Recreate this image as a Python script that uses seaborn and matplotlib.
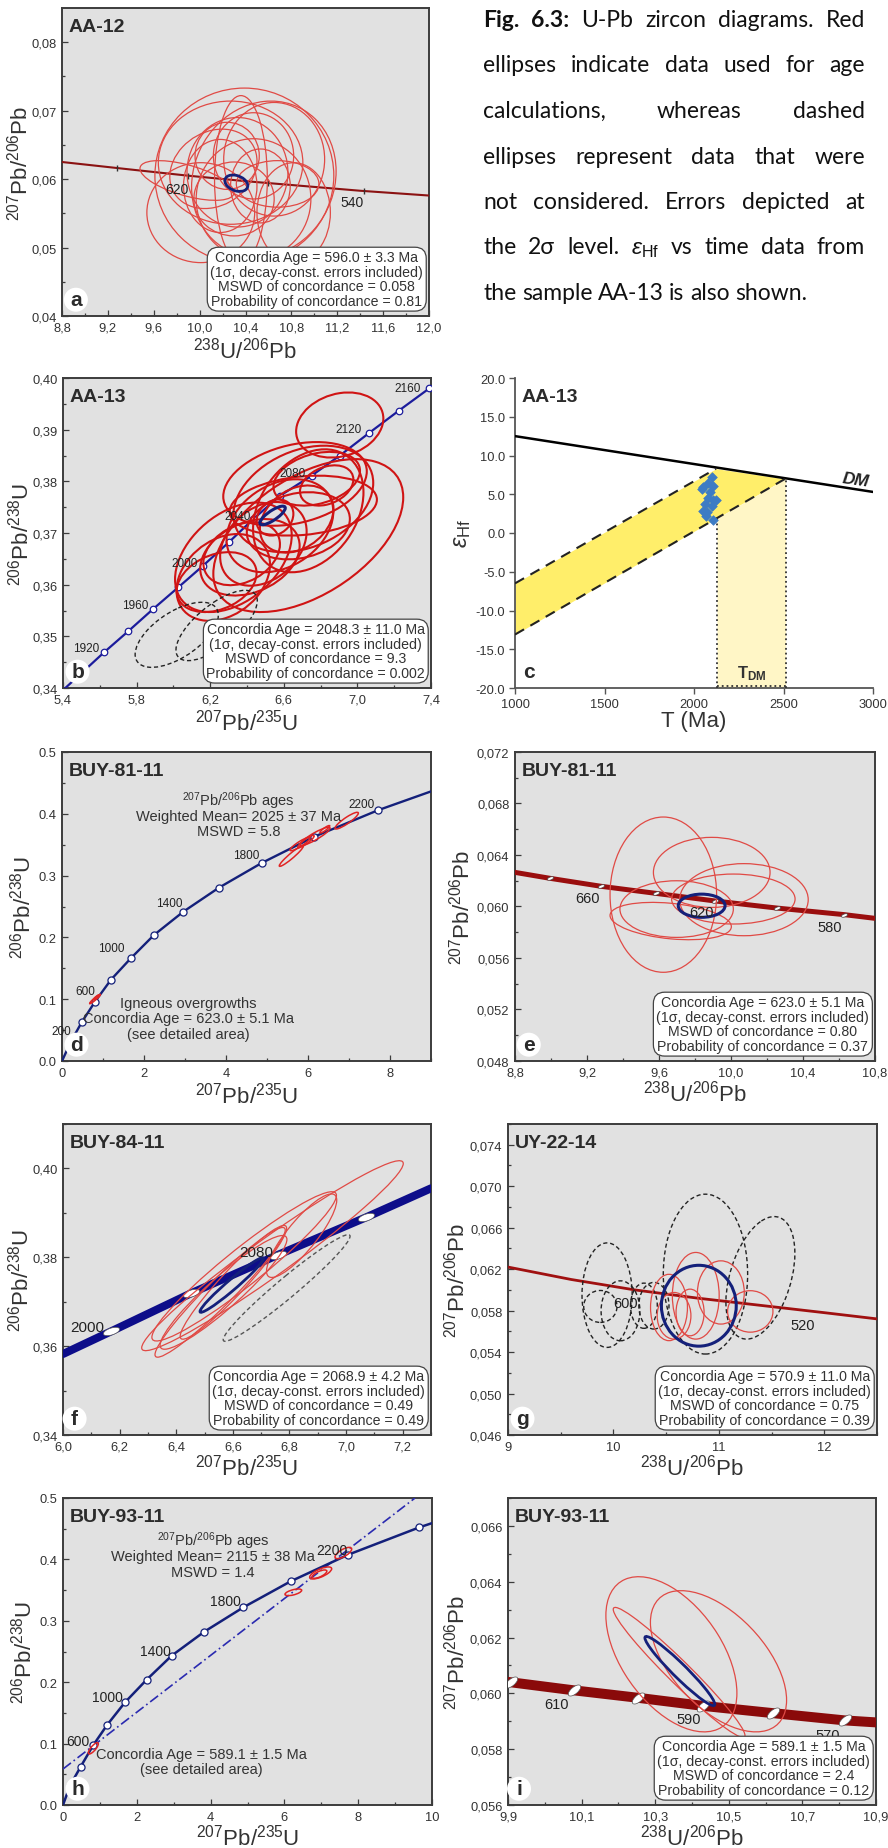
import numpy as np
import pandas as pd
import matplotlib
matplotlib.use("Agg")
import matplotlib.pyplot as plt
import seaborn as sns
from matplotlib.patches import Ellipse
from matplotlib.ticker import FuncFormatter
from matplotlib.markers import MarkerStyle
from matplotlib.transforms import Affine2D

# ======================= DATA =======================
# ---- panel a (AA-12, Tera-Wasserburg)
a_conc_x = [8.8, 9.4, 9.9, 10.4, 10.9, 11.4, 12.0]
a_conc_y = [0.0625, 0.0614, 0.0605, 0.0597, 0.0590, 0.0583, 0.0576]
a_mark_x = [9.28, 9.90, 10.60, 11.43]
a_mark_y = [0.0616, 0.0605, 0.0594, 0.0583]
a_lab = ["620", "540"]
a_lab_x = [9.80, 11.33]
a_lab_y = [0.0586, 0.0566]
a_ell_x = [10.39, 9.89, 10.56, 10.27, 10.01, 10.68, 10.36, 10.33, 10.47, 10.18, 10.65, 10.30, 10.47, 10.24, 10.53, 10.12, 10.82]
a_ell_y = [0.0605, 0.0598, 0.0600, 0.0624, 0.0551, 0.0593, 0.0600, 0.0610, 0.0571, 0.0590, 0.0629, 0.0571, 0.0634, 0.0634, 0.0590, 0.0615, 0.0551]
a_ell_ex = [0.78, 0.41, 0.63, 0.63, 0.47, 0.36, 0.23, 0.44, 0.50, 0.32, 0.44, 0.35, 0.35, 0.28, 0.26, 0.38, 0.32]
a_ell_ey = [0.0128, 0.0029, 0.0114, 0.0090, 0.0073, 0.0034, 0.0122, 0.0080, 0.0088, 0.0068, 0.0083, 0.0054, 0.0063, 0.0049, 0.0054, 0.0058, 0.0073]
a_ell_r = [0, -0.6, 0.1, 0, 0, 0, 0, 0, 0, 0, 0, 0, 0, 0, 0, 0.2, 0]
a_mean = [10.32, 0.0594, 0.10, 0.0012, -0.3]
a_info = ["Concordia Age = 596.0 ± 3.3 Ma", "(1σ, decay-const. errors included)",
          "MSWD of concordance = 0.058", "Probability of concordance = 0.81"]
a_xticks = [8.8, 9.2, 9.6, 10.0, 10.4, 10.8, 11.2, 11.6, 12.0]
a_yticks = [0.04, 0.05, 0.06, 0.07, 0.08]

# ---- panel b (AA-13, Wetherill)
b_line_x = [5.37, 5.623, 5.755, 5.887, 6.027, 6.162, 6.304, 6.434, 6.579, 6.751, 6.905, 7.065, 7.226, 7.391]
b_line_y = [0.3386, 0.3469, 0.3510, 0.3552, 0.3595, 0.3637, 0.3683, 0.3727, 0.3772, 0.3811, 0.3850, 0.3894, 0.3937, 0.3980]
b_lab = ["1920", "1960", "2000", "2040", "2080", "2120", "2160"]
b_lab_x = [5.525, 5.791, 6.059, 6.347, 6.648, 6.950, 7.271]
b_lab_y = [0.3477, 0.3561, 0.3642, 0.3732, 0.3816, 0.3901, 0.3980]
b_ell_x = [6.904, 6.733, 6.326, 6.271, 6.661, 6.706, 6.733, 6.579, 6.679, 6.416, 6.670, 6.552, 6.833, 6.779, 6.235, 6.371, 6.706, 6.489]
b_ell_y = [0.3909, 0.3695, 0.3653, 0.3614, 0.3795, 0.3766, 0.3743, 0.3714, 0.3714, 0.3653, 0.3727, 0.3730, 0.3792, 0.3805, 0.3605, 0.3660, 0.3753, 0.3679]
b_ell_ex = [0.237, 0.516, 0.317, 0.254, 0.390, 0.380, 0.300, 0.290, 0.280, 0.270, 0.200, 0.100, 0.145, 0.235, 0.217, 0.208, 0.400, 0.235]
b_ell_ey = [0.0063, 0.0148, 0.0106, 0.0084, 0.0081, 0.0103, 0.0119, 0.0090, 0.0065, 0.0074, 0.0065, 0.0035, 0.0039, 0.0052, 0.0058, 0.0061, 0.0058, 0.0081]
b_ell_r = [0.2, 0.5, 0.4, 0.3, 0.3, 0.3, 0.3, 0.3, 0.2, 0.3, 0.3, 0.2, 0.3, 0.3, 0.3, 0.3, 0.2, 0.3]
b_rej_x = [6.018, 6.235]
b_rej_y = [0.3503, 0.3521]
b_rej_ex = [0.226, 0.221]
b_rej_ey = [0.0063, 0.0068]
b_rej_r = [0.6, 0.7]
b_mean = [6.539, 0.3734, 0.069, 0.0018, 0.8]
b_info = ["Concordia Age = 2048.3 ± 11.0 Ma", "(1σ, decay-const. errors included)",
          "MSWD of concordance = 9.3", "Probability of concordance = 0.002"]
b_xticks = [5.4, 5.8, 6.2, 6.6, 7.0, 7.4]
b_yticks = [0.34, 0.35, 0.36, 0.37, 0.38, 0.39, 0.40]

# ---- panel c (AA-13, eHf vs T)
c_dm_T = [1000, 3000]
c_dm_eps = [12.5, 5.3]
c_up_T = [1000, 2123]
c_up_eps = [-6.5, 8.3]
c_lo_T = [1000, 2510]
c_lo_eps = [-13.1, 7.0]
c_band_T = [1000, 2123, 2510]
c_band_lo = [-13.1, 1.85, 7.0]
c_band_hi = [-6.5, 8.3, 7.0]
c_tdm_T = [2128, 2512]
c_tdm_top = [1.9, 7.0]
c_T = [2099, 2080, 2052, 2108, 2043, 2089, 2080, 2108, 2061, 2049, 2074, 2099, 2123, 2108, 2067]
c_eps = [7.2, 6.5, 5.9, 6.1, 5.7, 5.25, 4.5, 4.2, 3.7, 2.9, 2.7, 3.5, 4.3, 1.7, 2.2]
c_xticks = [1000, 1500, 2000, 2500, 3000]
c_yticks = [-20, -15, -10, -5, 0, 5, 10, 15, 20]

# ---- panel d (BUY-81-11, Wetherill full)
d_line_x = [0, 0.2184, 0.48, 0.805, 1.195, 1.675, 2.244, 2.959, 3.829, 4.87, 6.154, 7.70, 9.63]
d_line_y = [0, 0.0315, 0.0626, 0.096, 0.1316, 0.166, 0.2039, 0.2416, 0.2805, 0.3204, 0.363, 0.4056, 0.4511]
d_lab = ["200", "600", "1000", "1400", "1800", "2200"]
d_lab_x = [-0.02, 0.561, 1.211, 2.61, 4.504, 7.31]
d_lab_y = [0.049, 0.1138, 0.1828, 0.2557, 0.3333, 0.4159]
d_ell_x = [5.593, 5.805, 6.171, 6.943, 6.41, 5.95, 0.805, 0.84]
d_ell_y = [0.3317, 0.3511, 0.3635, 0.3889, 0.375, 0.355, 0.1003, 0.103]
d_ell_ex = [0.293, 0.244, 0.366, 0.285, 0.12, 0.2, 0.13, 0.07]
d_ell_ey = [0.0167, 0.0108, 0.0148, 0.0135, 0.006, 0.01, 0.0075, 0.004]
d_ell_r = [0.95, 0.9, 0.9, 0.9, 0.9, 0.9, 0.95, 0.9]
d_note1 = ["$^{207}$Pb/$^{206}$Pb ages", "Weighted Mean= 2025 ± 37 Ma", "MSWD = 5.8"]
d_note1_y = [0.4223, 0.397, 0.3727]
d_note2 = ["Igneous overgrowths", "Concordia Age = 623.0 ± 5.1 Ma", "(see detailed area)"]
d_note2_y = [0.0939, 0.069, 0.0437]

# ---- panel e (BUY-81-11, TW)
e_line_x = [8.8, 8.994, 9.278, 9.583, 9.911, 10.254, 10.628, 10.8]
e_line_y = [0.06265, 0.06219, 0.06157, 0.06102, 0.06043, 0.05988, 0.05937, 0.05908]
e_lab = ["660", "620", "580"]
e_lab_x = [9.204, 9.837, 10.55]
e_lab_y = [0.06063, 0.0596, 0.05838]
e_ell_x = [9.624, 9.893, 10.072, 9.698, 9.665, 10.013]
e_ell_y = [0.06092, 0.06265, 0.06053, 0.0598, 0.05887, 0.06058]
e_ell_ex = [0.296, 0.324, 0.357, 0.315, 0.337, 0.343]
e_ell_ey = [0.00603, 0.00272, 0.0028, 0.0022, 0.00145, 0.00194]
e_ell_r = [0, 0, 0, 0, -0.3, 0]
e_mean = [9.837, 0.06006, 0.13, 0.0009, 0]
e_info = ["Concordia Age = 623.0 ± 5.1 Ma", "(1σ, decay-const. errors included)",
          "MSWD of concordance = 0.80", "Probability of concordance = 0.37"]
e_xticks = [8.8, 9.2, 9.6, 10.0, 10.4, 10.8]
e_yticks = [0.048, 0.052, 0.056, 0.060, 0.064, 0.068, 0.072]

# ---- panel f (BUY-84-11, Wetherill zoom)
f_line_x = [6.0, 6.170, 6.452, 6.761, 7.071, 7.3]
f_line_y = [0.35823, 0.36333, 0.37189, 0.38059, 0.3890, 0.39552]
f_lab = ["2000", "2080"]
f_lab_x = [6.086, 6.682]
f_lab_y = [0.3644, 0.3813]
f_ell_x = [6.740, 6.640, 6.555, 6.567, 6.843, 6.602]
f_ell_y = [0.38036, 0.37796, 0.37211, 0.3721, 0.38486, 0.37436]
f_ell_ex = [0.462, 0.326, 0.23, 0.224, 0.124, 0.188]
f_ell_ey = [0.02138, 0.0168, 0.0146, 0.0128, 0.0094, 0.0128]
f_ell_r = [0.97, 0.95, 0.96, 0.93, 0.85, 0.95]
f_rej = [6.790, 0.37309, 0.224, 0.0120, 0.97]
f_mean = [6.596, 0.37376, 0.112, 0.00615, 0.97]
f_info = ["Concordia Age = 2068.9 ± 4.2 Ma", "(1σ, decay-const. errors included)",
          "MSWD of concordance = 0.49", "Probability of concordance = 0.49"]
f_xticks = [6.0, 6.2, 6.4, 6.6, 6.8, 7.0, 7.2]
f_yticks = [0.34, 0.36, 0.38, 0.40]

# ---- panel g (UY-22-14, TW)
g_line_x = [9.0, 9.6, 10.2, 10.8, 11.4, 12.0, 12.5]
g_line_y = [0.0622, 0.0610, 0.0600, 0.0592, 0.0585, 0.0578, 0.0572]
g_lab = ["600", "520"]
g_lab_x = [10.114, 11.797]
g_lab_y = [0.05872, 0.0566]
g_ell_x = [10.527, 10.781, 11.019, 11.298, 10.575, 10.727]
g_ell_y = [0.0583, 0.05943, 0.05975, 0.05792, 0.0575, 0.05782]
g_ell_ex = [0.175, 0.222, 0.222, 0.215, 0.16, 0.133]
g_ell_ey = [0.0032, 0.00418, 0.00305, 0.0020, 0.00225, 0.00225]
g_ell_r = [0, 0, 0, 0, 0, 0]
g_rej_x = [9.94, 9.876, 10.067, 10.289, 10.384, 10.873, 11.394]
g_rej_y = [0.05949, 0.0584, 0.05798, 0.05847, 0.05847, 0.06152, 0.06116]
g_rej_ex = [0.238, 0.158, 0.184, 0.127, 0.143, 0.40, 0.327]
g_rej_ey = [0.00504, 0.00154, 0.00289, 0.00218, 0.00225, 0.00771, 0.00591]
g_rej_r = [0, 0, 0, 0, 0, 0, 0.4]
g_mean = [10.81, 0.05847, 0.355, 0.0039, 0]
g_info = ["Concordia Age = 570.9 ± 11.0 Ma", "(1σ, decay-const. errors included)",
          "MSWD of concordance = 0.75", "Probability of concordance = 0.39"]
g_xticks = [9, 10, 11, 12]
g_yticks = [0.046, 0.050, 0.054, 0.058, 0.062, 0.066, 0.070, 0.074]

# ---- panel h (BUY-93-11, Wetherill full)
h_line_x = [0, 0.19, 0.479, 0.822, 1.201, 1.68, 2.267, 2.945, 3.83, 4.887, 6.17, 7.73, 9.657, 10.73]
h_line_y = [0, 0.0315, 0.0624, 0.0977, 0.1308, 0.1672, 0.2041, 0.2432, 0.2823, 0.3219, 0.3643, 0.4077, 0.4522, 0.4737]
h_disc_x = [0.0, 9.54]
h_disc_y = [0.0586, 0.5]
h_lab = ["600", "1000", "1400", "1800", "2200"]
h_lab_x = [0.416, 1.20, 2.51, 4.41, 7.29]
h_lab_y = [0.1048, 0.1754, 0.2514, 0.3322, 0.4159]
h_ell_x = [6.242, 6.983, 6.95, 7.597, 0.822]
h_ell_y = [0.3464, 0.3779, 0.376, 0.4104, 0.0923]
h_ell_ex = [0.226, 0.298, 0.2, 0.226, 0.135]
h_ell_ey = [0.0054, 0.0098, 0.0068, 0.0092, 0.0092]
h_ell_r = [0.6, 0.7, 0.7, 0.7, 0.8]
h_note1 = ["$^{207}$Pb/$^{206}$Pb ages", "Weighted Mean= 2115 ± 38 Ma", "MSWD = 1.4"]
h_note1_y = [0.4305, 0.405, 0.38]
h_note2 = ["Concordia Age = 589.1 ± 1.5 Ma", "(see detailed area)"]
h_note2_y = [0.0831, 0.0586]

# ---- panel i (BUY-93-11, TW)
i_line_x = [9.9, 10.078, 10.254, 10.431, 10.621, 10.816, 10.9]
i_line_y = [0.06041, 0.06011, 0.05984, 0.05955, 0.05929, 0.05903, 0.05896]
i_mark_x = [9.908, 10.078, 10.254, 10.431, 10.621, 10.816]
i_mark_y = [0.06039, 0.06011, 0.05984, 0.05955, 0.05929, 0.05903]
i_lab = ["610", "590", "570"]
i_lab_x = [10.032, 10.39, 10.768]
i_lab_y = [0.05961, 0.05908, 0.05852]
i_ell_x = [10.344, 10.472, 10.365]
i_ell_y = [0.0614, 0.06115, 0.06075]
i_ell_ex = [0.178, 0.185, 0.179]
i_ell_ey = [0.00278, 0.00253, 0.00233]
i_ell_r = [-0.5, -0.55, -0.97]
i_mean = [10.367, 0.0608, 0.095, 0.00124, -0.96]
i_info = ["Concordia Age = 589.1 ± 1.5 Ma", "(1σ, decay-const. errors included)",
          "MSWD of concordance = 2.4", "Probability of concordance = 0.12"]
i_xticks = [9.9, 10.1, 10.3, 10.5, 10.7, 10.9]
i_yticks = [0.056, 0.058, 0.060, 0.062, 0.064, 0.066]

caption = ["Fig. 6.3: U-Pb zircon diagrams. Red",
           "ellipses indicate data used for age",
           "calculations, whereas dashed",
           "ellipses represent data that were",
           "not considered. Errors depicted at",
           "the 2σ level. εHf vs time data from",
           "the sample AA-13 is also shown."]

# ======================= STYLE =======================
sns.set_theme(style="ticks")
plt.rcParams["font.family"] = ["Liberation Sans", "DejaVu Sans"]
plt.rcParams["mathtext.fontset"] = "custom"
plt.rcParams["mathtext.rm"] = "Liberation Sans"
plt.rcParams["mathtext.it"] = "Liberation Sans:italic"
plt.rcParams["mathtext.bf"] = "Liberation Sans:bold"
plt.rcParams["mathtext.sf"] = "Liberation Sans"

W, H = 888, 1849
fig = plt.figure(figsize=(W / 100, H / 100), dpi=100)
fig.patch.set_facecolor("white")

SP = "#3c3c3c"
RED = "#e04a45"
DRED = "#d01414"
NAVY = "#14207a"
NOTE = 10.5


def ax_at(l, t, r, b):
    return fig.add_axes([l / W, 1 - b / H, (r - l) / W, (b - t) / H])


def comma(fmt):
    return FuncFormatter(lambda v, p: fmt.format(v).replace(".", ","))


def dot(fmt):
    return FuncFormatter(lambda v, p: fmt.format(v))


def minors(ticks, n=2):
    out = []
    for a, b in zip(ticks[:-1], ticks[1:]):
        for k in range(1, n):
            out.append(a + (b - a) * k / n)
    return out


def style_gray(ax, xlim, ylim, xt, yt, xf, yf):
    ax.set_facecolor("#E1E1E1")
    ax.set_xlim(*xlim)
    ax.set_ylim(*ylim)
    ax.set_xticks(xt)
    ax.set_xticks(minors(xt), minor=True)
    ax.set_yticks(yt)
    ax.set_yticks(minors(yt), minor=True)
    ax.xaxis.set_major_formatter(xf)
    ax.yaxis.set_major_formatter(yf)
    for s in ax.spines.values():
        s.set_visible(True)
        s.set_color(SP)
        s.set_linewidth(1.4)
    ax.tick_params(which="both", direction="in", color=SP, width=0.9,
                   labelcolor="#333333", labelsize=9.3, pad=4)
    ax.tick_params(which="major", length=4)
    ax.tick_params(which="minor", length=2.5)
    ax.grid(False)


def axis_labels(ax, xl, yl, xpad=1, ypad=0):
    ax.set_xlabel(xl, fontsize=16, color="#333333", labelpad=xpad)
    ax.set_ylabel(yl, fontsize=16, color="#333333", labelpad=ypad)


def sample_label(ax, s):
    ax.text(0.018, 0.968, s, transform=ax.transAxes, ha="left", va="top",
            fontsize=14, fontweight="bold", color="#2b2b2b", zorder=12)


def panel_letter(ax, s, circle=True):
    kw = dict(boxstyle="circle,pad=0.12", fc="white", ec="none") if circle else None
    ax.text(0.022, 0.022, s, transform=ax.transAxes, ha="left", va="bottom",
            fontsize=15, fontweight="bold", color="#2b2b2b", bbox=kw, zorder=12)


def info_box(ax, lines):
    ax.text(0.984, 0.026, "\n".join(lines), transform=ax.transAxes, ha="right",
            va="bottom", multialignment="center", fontsize=10.2, color="#333333",
            linespacing=1.05, zorder=15,
            bbox=dict(boxstyle="round,pad=0.22,rounding_size=0.8", fc="white",
                      ec="#444444", lw=0.9))


def draw_ellipses(ax, xs, ys, exs, eys, rhos, **kw):
    for x, y, sx, sy, r in zip(xs, ys, exs, eys, rhos):
        c = r * sx * sy
        vals, vecs = np.linalg.eigh(np.array([[sx * sx, c], [c, sy * sy]]))
        ang = np.degrees(np.arctan2(vecs[1, 1], vecs[0, 1]))
        ax.add_patch(Ellipse((x, y), 2 * np.sqrt(max(vals[1], 0)),
                             2 * np.sqrt(max(vals[0], 0)), angle=ang,
                             fill=False, **kw))


def age_labels(ax, labs, xs, ys, size):
    for s, x, y in zip(labs, xs, ys):
        ax.text(x, y, s, ha="center", va="center", fontsize=size, color="#222222",
                zorder=8, clip_on=False)


def conc_line(ax, xs, ys, color, lw):
    sns.lineplot(x=xs, y=ys, ax=ax, sort=False, estimator=None, color=color,
                 lw=lw, legend=False, zorder=3)


# ======================= PANEL a =======================
ax = ax_at(62, 9, 429, 317)
style_gray(ax, (8.8, 12.0), (0.04, 0.085), a_xticks, a_yticks, comma("{:.1f}"), comma("{:.2f}"))
conc_line(ax, a_conc_x, a_conc_y, "#8b1212", 1.5)
sns.scatterplot(x=a_mark_x, y=a_mark_y, ax=ax, marker="|", s=18, color="#333333",
                linewidth=1, zorder=4, legend=False)
draw_ellipses(ax, a_ell_x, a_ell_y, a_ell_ex, a_ell_ey, a_ell_r, ec=RED, lw=0.9, zorder=5)
draw_ellipses(ax, [a_mean[0]], [a_mean[1]], [a_mean[2]], [a_mean[3]], [a_mean[4]], ec=NAVY, lw=2, zorder=6)
age_labels(ax, a_lab, a_lab_x, a_lab_y, 10)
info_box(ax, a_info)
sample_label(ax, "AA-12")
panel_letter(ax, "a")
axis_labels(ax, r"$^{238}$U/$^{206}$Pb", r"$^{207}$Pb/$^{206}$Pb", 2, -1)

# ======================= PANEL b =======================
ax = ax_at(63, 379, 431, 689)
style_gray(ax, (5.4, 7.4), (0.34, 0.40), b_xticks, b_yticks, comma("{:.1f}"), comma("{:.2f}"))
conc_line(ax, b_line_x, b_line_y, "#1c1c9c", 1.6)
sns.scatterplot(x=b_line_x[1:], y=b_line_y[1:], ax=ax, s=22, color="white",
                edgecolor="#1c1c9c", linewidth=0.9, zorder=4, legend=False)
draw_ellipses(ax, b_ell_x, b_ell_y, b_ell_ex, b_ell_ey, b_ell_r, ec=DRED, lw=1.5, zorder=5)
draw_ellipses(ax, b_rej_x, b_rej_y, b_rej_ex, b_rej_ey, b_rej_r, ec="#222222", lw=1.0,
              ls=(0, (3, 2)), zorder=5)
draw_ellipses(ax, [b_mean[0]], [b_mean[1]], [b_mean[2]], [b_mean[3]], [b_mean[4]], ec=NAVY, lw=2.2, zorder=6)
age_labels(ax, b_lab, b_lab_x, b_lab_y, 8.5)
info_box(ax, b_info)
sample_label(ax, "AA-13")
panel_letter(ax, "b")
axis_labels(ax, r"$^{207}$Pb/$^{235}$U", r"$^{206}$Pb/$^{238}$U", 2, -1)

# ======================= PANEL c =======================
ax = ax_at(515, 379, 873, 689)
ax.set_facecolor("white")
ax.set_xlim(1000, 3000)
ax.set_ylim(-20, 20)
ax.fill_between(c_band_T, c_band_lo, c_band_hi, color="#FFEE6A", lw=0, zorder=1)
ax.fill_between(c_tdm_T, [-20, -20], c_tdm_top, color="#FFF6C6", lw=0, zorder=1)
sns.lineplot(x=c_dm_T, y=c_dm_eps, ax=ax, color="black", lw=1.8, legend=False, zorder=3)
sns.lineplot(x=c_up_T, y=c_up_eps, ax=ax, color="#222222", lw=1.5, linestyle=(0, (5, 3.5)), legend=False, zorder=3)
sns.lineplot(x=c_lo_T, y=c_lo_eps, ax=ax, color="#222222", lw=1.5, linestyle=(0, (5, 3.5)), legend=False, zorder=3)
for T, top in zip(c_tdm_T, c_tdm_top):
    ax.plot([T, T], [-20, top], color="#333333", lw=1.3, ls=":", zorder=3)
ax.plot(c_tdm_T, [-19.8, -19.8], color="#333333", lw=1.3, ls=":", zorder=3)
sns.scatterplot(x=c_T, y=c_eps, ax=ax, marker="D", s=24, color="#3d7cc4",
                edgecolor="#3d7cc4", linewidth=0.5, zorder=5, legend=False)
ax.set_xticks(c_xticks)
ax.set_yticks(c_yticks)
ax.xaxis.set_major_formatter(dot("{:.0f}"))
ax.yaxis.set_major_formatter(dot("{:.1f}"))
for side in ["top", "right"]:
    ax.spines[side].set_visible(False)
for side in ["left", "bottom"]:
    ax.spines[side].set_color("#555555")
    ax.spines[side].set_linewidth(1.3)
ax.tick_params(direction="out", length=4, width=1, color="#555555",
               labelcolor="#333333", labelsize=9.3, pad=3)
ax.grid(False)
ax.text(2905, 6.9, "DM", fontsize=12.5, fontweight="bold", fontstyle="italic",
        rotation=-8, ha="center", va="center", color="#222222")
ax.text(2322, -18.0, r"$\mathbf{T}_{\mathbf{DM}}$", fontsize=12, ha="center",
        va="center", color="#333333")
sample_label(ax, "AA-13")
panel_letter(ax, "c", circle=False)
ax.set_xlabel("T (Ma)", fontsize=16, color="#333333", labelpad=0)
ax.set_ylabel(r"$\varepsilon_{\mathrm{Hf}}$", fontsize=17, color="#333333", labelpad=2)

# ======================= PANEL d =======================
ax = ax_at(62, 753, 431, 1062)
style_gray(ax, (0, 9), (0, 0.5), [0, 2, 4, 6, 8], [0, 0.1, 0.2, 0.3, 0.4, 0.5], dot("{:.0f}"), dot("{:.1f}"))
ax.set_xticks([1, 3, 5, 7, 9], minor=True)
conc_line(ax, d_line_x, d_line_y, NAVY, 1.7)
sns.scatterplot(x=d_line_x[1:-1], y=d_line_y[1:-1], ax=ax, s=26, color="white",
                edgecolor=NAVY, linewidth=0.9, zorder=4, legend=False)
draw_ellipses(ax, d_ell_x, d_ell_y, d_ell_ex, d_ell_ey, d_ell_r, ec="#e02424", lw=1.1, zorder=5)
age_labels(ax, d_lab, d_lab_x, d_lab_y, 8.5)
for s, y in zip(d_note1, d_note1_y):
    ax.text(4.30, y, s, ha="center", va="center", fontsize=NOTE, color="#333333", zorder=8)
for s, y in zip(d_note2, d_note2_y):
    ax.text(3.08, y, s, ha="center", va="center", fontsize=NOTE, color="#333333", zorder=8)
sample_label(ax, "BUY-81-11")
panel_letter(ax, "d")
axis_labels(ax, r"$^{207}$Pb/$^{235}$U", r"$^{206}$Pb/$^{238}$U", 2, 2)

# ======================= PANEL e =======================
ax = ax_at(515, 753, 875, 1062)
style_gray(ax, (8.8, 10.8), (0.048, 0.072), e_xticks, e_yticks, comma("{:.1f}"), comma("{:.3f}"))
conc_line(ax, e_line_x, e_line_y, "#9a0e0e", 3.6)
sns.scatterplot(x=e_line_x[1:-1], y=e_line_y[1:-1], ax=ax, s=22, color="white",
                marker=MarkerStyle("o", transform=Affine2D().scale(1, 0.45).rotate_deg(20)),
                edgecolor="#444444", linewidth=0.5, zorder=4, legend=False)
draw_ellipses(ax, e_ell_x, e_ell_y, e_ell_ex, e_ell_ey, e_ell_r, ec=RED, lw=0.9, zorder=5)
draw_ellipses(ax, [e_mean[0]], [e_mean[1]], [e_mean[2]], [e_mean[3]], [e_mean[4]], ec=NAVY, lw=2.2, zorder=6)
age_labels(ax, e_lab, e_lab_x, e_lab_y, 10.5)
info_box(ax, e_info)
sample_label(ax, "BUY-81-11")
panel_letter(ax, "e")
axis_labels(ax, r"$^{238}$U/$^{206}$Pb", r"$^{207}$Pb/$^{206}$Pb", 1, 2)

# ======================= PANEL f =======================
ax = ax_at(63, 1125, 431, 1436)
style_gray(ax, (6.0, 7.3), (0.34, 0.41), f_xticks, f_yticks, comma("{:.1f}"), comma("{:.2f}"))
ax.set_xticks(minors(f_xticks) + [7.3], minor=True)
ax.set_yticks(minors(f_yticks) + [0.41], minor=True)
conc_line(ax, f_line_x, f_line_y, "#0d0d8a", 5.8)
sns.scatterplot(x=f_line_x[1:-1], y=f_line_y[1:-1], ax=ax, s=150, color="white",
                marker=MarkerStyle("o", transform=Affine2D().scale(1, 0.4).rotate_deg(18)),
                edgecolor="#555555", linewidth=0.5, zorder=4, legend=False)
draw_ellipses(ax, f_ell_x, f_ell_y, f_ell_ex, f_ell_ey, f_ell_r, ec=RED, lw=0.9, zorder=5)
draw_ellipses(ax, [f_rej[0]], [f_rej[1]], [f_rej[2]], [f_rej[3]], [f_rej[4]], ec="#555555",
              lw=1.0, ls=(0, (3, 2)), zorder=5)
draw_ellipses(ax, [f_mean[0]], [f_mean[1]], [f_mean[2]], [f_mean[3]], [f_mean[4]], ec=NAVY, lw=2.0, zorder=6)
age_labels(ax, f_lab, f_lab_x, f_lab_y, 11)
info_box(ax, f_info)
sample_label(ax, "BUY-84-11")
panel_letter(ax, "f")
axis_labels(ax, r"$^{207}$Pb/$^{235}$U", r"$^{206}$Pb/$^{238}$U", 1, -1)

# ======================= PANEL g =======================
ax = ax_at(508, 1125, 877, 1436)
style_gray(ax, (9, 12.5), (0.046, 0.076), g_xticks, g_yticks, dot("{:.0f}"), comma("{:.3f}"))
ax.set_xticks([9.5, 10.5, 11.5, 12.5], minor=True)
ax.set_yticks(minors(g_yticks) + [0.076], minor=True)
conc_line(ax, g_line_x, g_line_y, "#a01010", 2.0)
draw_ellipses(ax, g_rej_x, g_rej_y, g_rej_ex, g_rej_ey, g_rej_r, ec="#222222", lw=1.0,
              ls=(0, (3, 2)), zorder=5)
draw_ellipses(ax, g_ell_x, g_ell_y, g_ell_ex, g_ell_ey, g_ell_r, ec=RED, lw=0.9, zorder=5)
draw_ellipses(ax, [g_mean[0]], [g_mean[1]], [g_mean[2]], [g_mean[3]], [g_mean[4]], ec=NAVY, lw=2.2, zorder=6)
age_labels(ax, g_lab, g_lab_x, g_lab_y, 10.5)
info_box(ax, g_info)
sample_label(ax, "UY-22-14")
panel_letter(ax, "g")
axis_labels(ax, r"$^{238}$U/$^{206}$Pb", r"$^{207}$Pb/$^{206}$Pb", 1, 0)

# ======================= PANEL h =======================
ax = ax_at(63, 1499, 432, 1806)
style_gray(ax, (0, 10), (0, 0.5), [0, 2, 4, 6, 8, 10], [0, 0.1, 0.2, 0.3, 0.4, 0.5], dot("{:.0f}"), dot("{:.1f}"))
sns.lineplot(x=h_disc_x, y=h_disc_y, ax=ax, color="#2a2ab0", lw=1.2, linestyle=(0, (6, 2, 1, 2)),
             legend=False, zorder=3)
conc_line(ax, h_line_x, h_line_y, NAVY, 1.8)
sns.scatterplot(x=h_line_x[1:-1], y=h_line_y[1:-1], ax=ax, s=26, color="white",
                edgecolor=NAVY, linewidth=0.9, zorder=4, legend=False)
draw_ellipses(ax, h_ell_x, h_ell_y, h_ell_ex, h_ell_ey, h_ell_r, ec="#e02424", lw=1.1, zorder=5)
age_labels(ax, h_lab, h_lab_x, h_lab_y, 10)
for s, y in zip(h_note1, h_note1_y):
    ax.text(4.07, y, s, ha="center", va="center", fontsize=NOTE, color="#333333", zorder=8)
for s, y in zip(h_note2, h_note2_y):
    ax.text(3.76, y, s, ha="center", va="center", fontsize=NOTE, color="#333333", zorder=8)
sample_label(ax, "BUY-93-11")
panel_letter(ax, "h")
axis_labels(ax, r"$^{207}$Pb/$^{235}$U", r"$^{206}$Pb/$^{238}$U", 1, 2)

# ======================= PANEL i =======================
ax = ax_at(508, 1499, 876, 1806)
style_gray(ax, (9.9, 10.9), (0.056, 0.067), i_xticks, i_yticks, comma("{:.1f}"), comma("{:.3f}"))
ax.set_yticks(minors(i_yticks) + [0.067], minor=True)
conc_line(ax, i_line_x, i_line_y, "#8a0a0a", 7.2)
sns.scatterplot(x=i_mark_x, y=i_mark_y, ax=ax, s=120, color="white",
                marker=MarkerStyle("o", transform=Affine2D().scale(1, 0.45).rotate_deg(40)),
                edgecolor="#555555", linewidth=0.5, zorder=4, legend=False)
draw_ellipses(ax, i_ell_x, i_ell_y, i_ell_ex, i_ell_ey, i_ell_r, ec=RED, lw=0.9, zorder=5)
draw_ellipses(ax, [i_mean[0]], [i_mean[1]], [i_mean[2]], [i_mean[3]], [i_mean[4]], ec=NAVY, lw=2.0, zorder=6)
age_labels(ax, i_lab, i_lab_x, i_lab_y, 10.5)
info_box(ax, i_info)
sample_label(ax, "BUY-93-11")
panel_letter(ax, "i")
axis_labels(ax, r"$^{238}$U/$^{206}$Pb", r"$^{207}$Pb/$^{206}$Pb", 1, 0)

# ======================= CAPTION (justified) =======================
fig.canvas.draw()
renderer = fig.canvas.get_renderer()
CL, CR = 483, 865
base0, dy = 27, 45.5
cap_fam = ["Lato", "DejaVu Sans"]
for i, line in enumerate(caption):
    words = line.split(" ")
    texts = []
    ypix = base0 + dy * i
    for w in words:
        s = r"$\varepsilon_{\mathrm{Hf}}$" if w == "εHf" else w
        bold = (i == 0 and w in ("Fig.", "6.3:"))
        t = fig.text(CL / W, 1 - ypix / H, s, fontsize=16.5, family=cap_fam,
                     fontweight="bold" if bold else "normal", va="baseline",
                     ha="left", color="#111111")
        texts.append(t)
    widths = [t.get_window_extent(renderer).width for t in texts]
    if i < len(caption) - 1 and len(words) > 1:
        gap = (CR - CL - sum(widths)) / (len(words) - 1)
    else:
        gap = 5.5
    x = CL
    for t, wdt in zip(texts, widths):
        t.set_x(x / W)
        x += wdt + gap

fig.savefig("out.png", dpi=100)
